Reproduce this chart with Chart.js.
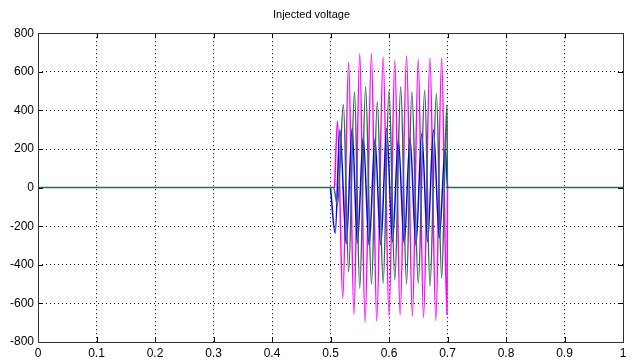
<!DOCTYPE html>
<html>
<head>
<meta charset="utf-8">
<title>Injected voltage</title>
<script src="https://cdn.jsdelivr.net/npm/chart.js@4"></script>
<style>
  html, body { margin: 0; padding: 0; background: #fff; }
  #wrap { width: 634px; height: 363px; }
</style>
</head>
<body>
<div id="wrap"><canvas id="voltChart"></canvas></div>
<script>
// Data (time in s, voltage in V)
const xTicks = [0, 0.1, 0.2, 0.3, 0.4, 0.5, 0.6, 0.7, 0.8, 0.9, 1];
const yTicks = [-800, -600, -400, -200, 0, 200, 400, 600, 800];

// magenta and blue only while injecting, the flat part is hidden under green anyway
const magentaT = [0.507, 0.512, 0.521, 0.531, 0.540, 0.550, 0.559, 0.570, 0.579, 0.590, 0.600,
  0.610, 0.619, 0.630, 0.640, 0.650, 0.659, 0.670, 0.680, 0.690, 0.699, 0.700];
const magentaV = [0, 345, -575, 651, -657, 693, -697, 693, -691, 675, -666,
  660, -662, 680, -666, 665, -674, 672, -690, 672, -657, 0];

const blueT = [0.500, 0.508, 0.516, 0.527, 0.537, 0.546, 0.556, 0.566, 0.576, 0.586, 0.596,
  0.606, 0.616, 0.626, 0.636, 0.646, 0.656, 0.666, 0.676, 0.686, 0.696, 0.700];
const blueV = [0, -236, 300, -290, 308, -288, 260, -300, 250, -298, 308,
  -280, 246, -290, 256, -300, 280, -280, 298, -260, 200, 0];

const greenT = [0, 0.505, 0.512, 0.522, 0.531, 0.541, 0.550, 0.560, 0.570, 0.580, 0.590, 0.600,
  0.610, 0.620, 0.630, 0.639, 0.650, 0.661, 0.670, 0.681, 0.690, 0.699, 0.700, 1];
const greenV = [0, 0, -90, 430, -436, 496, -521, 522, -500, 445, -495, 505,
  -479, 522, -500, 496, -495, 505, -510, 488, -469, 428, 0, 0];

function toPoints(ts, vs) {
  return ts.map((t, i) => ({ x: t, y: vs[i] }));
}

// box round the plot plus little inward tick marks, matlab style
const frameAndTicks = {
  id: 'frameAndTicks',
  afterDatasetsDraw(chart) {
    const { ctx, chartArea: a, scales } = chart;
    ctx.save();
    ctx.strokeStyle = '#000';
    ctx.lineWidth = 1;
    ctx.beginPath();
    scales.x.ticks.forEach(t => {
      const px = Math.round(scales.x.getPixelForValue(t.value)) + 0.5;
      ctx.moveTo(px, a.bottom); ctx.lineTo(px, a.bottom - 5);
      ctx.moveTo(px, a.top); ctx.lineTo(px, a.top + 5);
    });
    scales.y.ticks.forEach(t => {
      const py = Math.round(scales.y.getPixelForValue(t.value)) + 0.5;
      ctx.moveTo(a.left, py); ctx.lineTo(a.left + 5, py);
      ctx.moveTo(a.right, py); ctx.lineTo(a.right - 5, py);
    });
    ctx.stroke();
    ctx.strokeStyle = '#333';
    ctx.strokeRect(Math.round(a.left) + 0.5, Math.round(a.top) + 0.5,
      Math.round(a.right - a.left), Math.round(a.bottom - a.top));
    ctx.restore();
  }
};

const tickFont = { family: "'Liberation Sans Narrow', 'Liberation Sans', Arial, sans-serif", size: 12 };

const dotGrid = {
  color: '#000',
  lineWidth: 1,
  drawTicks: false
};

function lineSet(label, pts, color) {
  return {
    label: label,
    data: pts,
    borderColor: color,
    backgroundColor: color,
    borderWidth: 1.5,
    pointRadius: 0,
    cubicInterpolationMode: 'monotone',
    fill: false
  };
}

new Chart(document.getElementById('voltChart'), {
  type: 'line',
  data: {
    datasets: [
      lineSet('Phase C', toPoints(greenT, greenV), '#2f6b4d'),
      lineSet('Phase B', toPoints(blueT, blueV), '#0000ff'),
      lineSet('Phase A', toPoints(magentaT, magentaV), '#ff00ff')
    ]
  },
  options: {
    responsive: true,
    maintainAspectRatio: false,
    animation: false,
    layout: { padding: { left: 0, right: 11, top: 0, bottom: 0 } },
    plugins: {
      legend: { display: false },
      tooltip: { enabled: false },
      title: {
        display: true,
        text: 'Injected voltage',
        color: '#000',
        font: { family: "'Liberation Sans Narrow', 'Liberation Sans', Arial, sans-serif", size: 11, weight: 'normal' },
        padding: { top: 8, bottom: 12 }
      }
    },
    scales: {
      x: {
        type: 'linear',
        min: 0,
        max: 1,
        afterBuildTicks: s => { s.ticks = xTicks.map(v => ({ value: v })); },
        afterFit: s => { s.height = 21; },
        grid: Object.assign({}, dotGrid, {
          color: ctx => (ctx.index === 0 || ctx.index === xTicks.length - 1) ? 'rgba(0,0,0,0)' : '#000'
        }),
        border: { display: false, dash: [1, 3] },
        ticks: {
          color: '#000',
          font: tickFont,
          padding: 4,
          maxRotation: 0,
          autoSkip: false,
          callback: v => String(Math.round(v * 10) / 10)
        }
      },
      y: {
        type: 'linear',
        min: -800,
        max: 800,
        afterBuildTicks: s => { s.ticks = yTicks.map(v => ({ value: v })); },
        afterFit: s => { s.width = 38; },
        grid: Object.assign({}, dotGrid, {
          color: ctx => (ctx.index === 0 || ctx.index === yTicks.length - 1) ? 'rgba(0,0,0,0)' : '#000'
        }),
        border: { display: false, dash: [1, 3] },
        ticks: {
          color: '#000',
          font: tickFont,
          padding: 4,
          autoSkip: false
        }
      }
    }
  },
  plugins: [frameAndTicks]
});
</script>
</body>
</html>
